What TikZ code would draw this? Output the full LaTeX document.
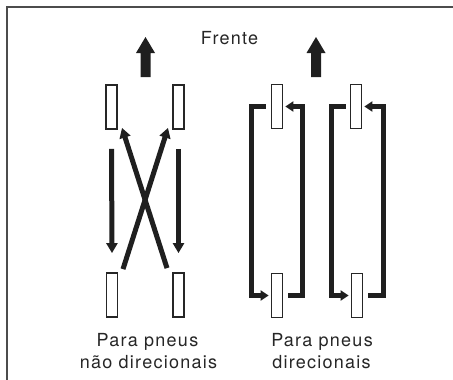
\documentclass[tikz,border=0pt]{standalone}
\usepackage{fontspec}
\setmainfont{TeX Gyre Heros}
\usetikzlibrary{arrows.meta}
\begin{document}
\begin{tikzpicture}[x=1pt,y=-1pt,
  tire/.style={draw=black!85, line width=1.8pt, fill=white, minimum width=11pt, minimum height=44pt, inner sep=0pt},
  xarr/.style={line width=5pt, draw=black!88, -{Triangle[length=10pt,width=11pt]}},
  barr/.style={line width=4.5pt, draw=black!88, -{Triangle[length=8pt,width=10pt]}},
  lbl/.style={font=\fontsize{18}{22}\selectfont\addfontfeatures{LetterSpace=7}, text=black!85, inner sep=0pt, anchor=base},
  frontarrow/.style={fill=black!88}]
\useasboundingbox (0,0) rectangle (453,380);
% frame (top and left edges only)
\draw[line width=2pt, draw=black!70] (6.5,380) -- (6.5,6.5) -- (453,6.5);

% forward arrows
\fill[frontarrow] (145.5,37) -- (155,53) -- (150.5,53) -- (150.5,77) -- (140.5,77) -- (140.5,53) -- (136,53) -- cycle;
\fill[frontarrow] (316,37) -- (325.5,53) -- (321,53) -- (321,77) -- (311,77) -- (311,53) -- (306.5,53) -- cycle;

\node[lbl] (frente) at (229.5,44) {Frente};

% non-directional tires
\node[tire] (FL) at (111.5,107) {};
\node[tire] (FR) at (178.5,107) {};
\node[tire] (RL) at (112,295) {};
\node[tire] (RR) at (178.5,295) {};

\draw[xarr] ([yshift=-19pt]FL.south) -- ([yshift=19pt]RL.north);
\draw[xarr] ([yshift=-19pt]FR.south) -- ([yshift=19pt]RR.north);
\draw[xarr] ([xshift=11pt,yshift=3pt]RL.north) -- ([xshift=-10.5pt,yshift=2pt]FR.south);
\draw[xarr] ([xshift=-11.5pt,yshift=4pt]RR.north) -- ([xshift=10.5pt,yshift=2pt]FL.south);

% directional tires
\node[tire] (DL1) at (277,106.5) {};
\node[tire] (DR1) at (277,295.5) {};
\node[tire] (DL2) at (356,106.5) {};
\node[tire] (DR2) at (357,295.5) {};

\draw[barr] ([xshift=-5pt]DL1.west) -- ++(-14,0) |- ([xshift=-2pt]DR1.west);
\draw[barr] ([xshift=5pt]DR1.east) -- ++(14,0) |- ([xshift=2pt]DL1.east);
\draw[barr] ([xshift=-4pt]DL2.west) -- ++(-14,0) |- ([xshift=-2pt]DR2.west);
\draw[barr] ([xshift=5pt]DR2.east) -- ++(15,0) |- ([xshift=2pt]DL2.east);

% labels
\node[lbl] (l1a) at (147.5,346) {Para pneus};
\node[lbl] (l1b) at (148.5,368) {não direcionais};
\node[lbl] (l2a) at (322,346) {Para pneus};
\node[lbl] (l2b) at (321.5,368) {direcionais};
\end{tikzpicture}
\end{document}
